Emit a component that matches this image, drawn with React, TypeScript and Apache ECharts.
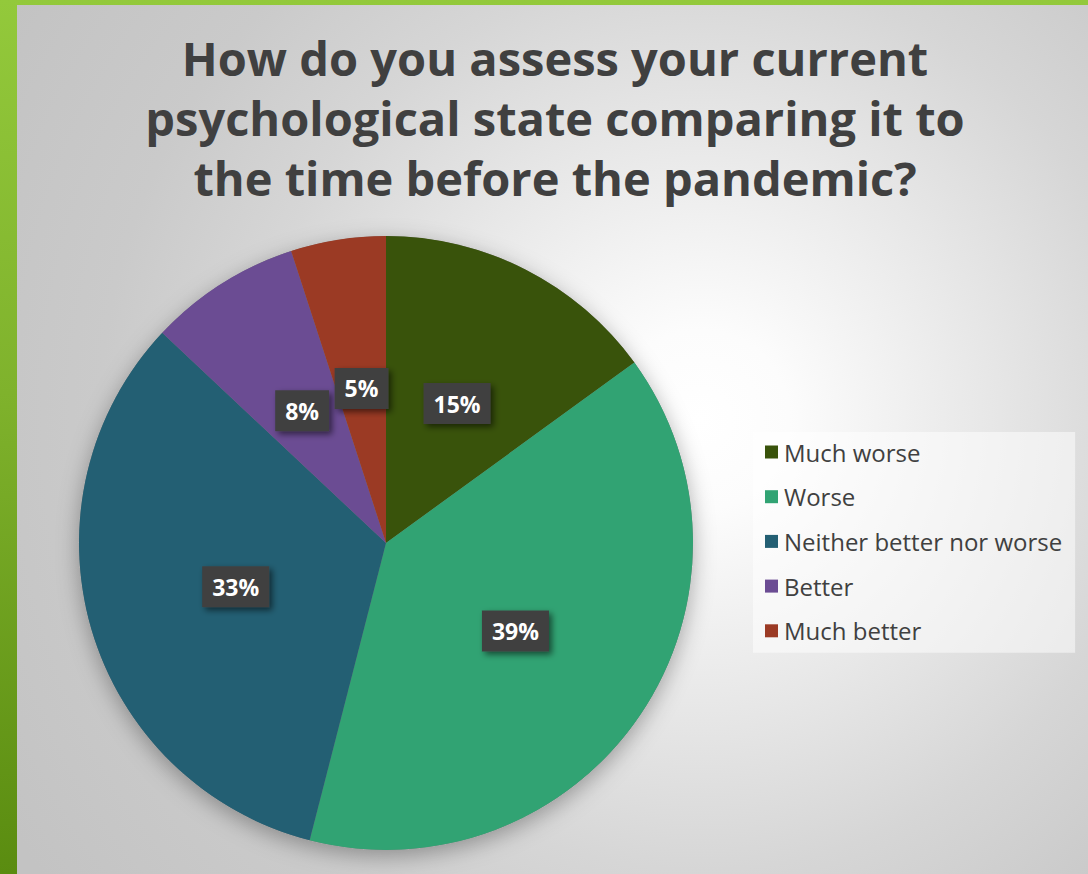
import React, { useEffect, useRef } from "react";
import * as echarts from "echarts";

const titleLines = [
  "How do you assess your current",
  "psychological state comparing it to",
  "the time before the pandemic?",
];
const categories = ["Much worse", "Worse", "Neither better nor worse", "Better", "Much better"];
const shares = [15, 39, 33, 8, 5];
const sliceColors = ["#39530b", "#31a373", "#235f73", "#6b4c93", "#9b3a24"];

const W = 1088;
const H = 874;

export default function App() {
  const ref = useRef<HTMLDivElement>(null);

  useEffect(() => {
    if (!ref.current) return;
    const chart = echarts.init(ref.current, undefined, { renderer: "svg" });
    const center = [386, 543];
    const radius = 307;

    chart.setOption({
      animation: false,
      backgroundColor: "transparent",
      title: {
        text: titleLines.join("\n"),
        left: 555,
        top: 28,
        padding: 0,
        textAlign: "center",
        textStyle: {
          fontFamily: "Open Sans",
          fontWeight: "bold",
          fontSize: 47,
          lineHeight: 60,
          color: "#404040",
        },
      },
      legend: {
        orient: "vertical",
        left: 753,
        top: 432,
        padding: [8, 13, 10, 12],
        backgroundColor: "rgba(255,255,255,0.5)",
        data: categories,
        icon: "rect",
        itemWidth: 13,
        itemHeight: 13,
        itemGap: 20.7,
        selectedMode: false,
        textStyle: {
          fontFamily: "Open Sans",
          fontSize: 24,
          lineHeight: 23,
          color: "#404040",
          padding: [0, 0, 0, 1],
        },
      },
      series: [
        {
          // soft drop shadow under the whole pie
          type: "pie",
          silent: true,
          z: 1,
          center,
          radius,
          label: { show: false },
          labelLine: { show: false },
          itemStyle: {
            color: "#808080",
            shadowBlur: 22,
            shadowOffsetY: 6,
            shadowColor: "rgba(0,0,0,0.32)",
          },
          data: [{ value: 1, name: "" }],
        },
        {
          type: "pie",
          z: 2,
          center,
          radius,
          startAngle: 90,
          clockwise: true,
          avoidLabelOverlap: false,
          itemStyle: { borderWidth: 0 },
          label: {
            show: true,
            position: "inside",
            formatter: "{d}%",
            color: "#ffffff",
            fontFamily: "Open Sans",
            fontWeight: "bold",
            fontSize: 23,
            lineHeight: 25,
            backgroundColor: "#404040",
            padding: [8, 10, 8, 10],
            shadowBlur: 6,
            shadowColor: "rgba(0,0,0,0.55)",
            shadowOffsetX: 3,
            shadowOffsetY: 3,
          },
          labelLine: { show: false },
          emphasis: { disabled: true },
          data: categories.map((name, i) => ({
            name,
            value: shares[i],
            itemStyle: { color: sliceColors[i] },
          })),
        },
      ],
    });

    return () => chart.dispose();
  }, []);

  return (
    <div
      style={{
        position: "absolute",
        left: 0,
        top: 0,
        width: W,
        height: H,
        background: "linear-gradient(to bottom, #93c93b 0%, #7fb22c 45%, #5a8c10 100%)",
        overflow: "hidden",
      }}
    >
      <div
        style={{
          position: "absolute",
          left: 17,
          top: 5,
          width: W - 17,
          height: H - 5,
          background:
            "radial-gradient(circle at 683px 415px, #ffffff 0px, #fcfcfc 90px, #e6e6e6 300px, #d6d6d6 450px, #cacaca 600px, #c3c3c3 800px)",
        }}
      />
      <div ref={ref} style={{ position: "absolute", left: 0, top: 0, width: W, height: H }} />
    </div>
  );
}
